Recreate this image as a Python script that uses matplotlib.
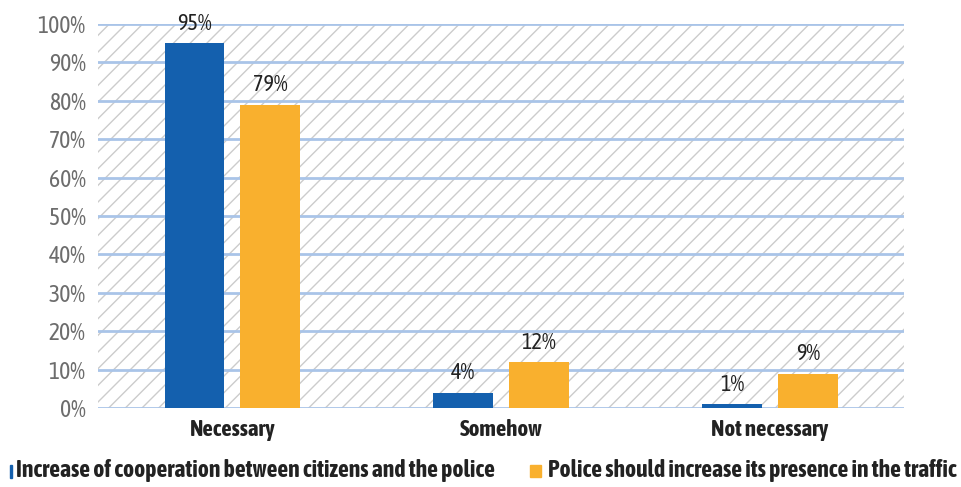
import matplotlib
matplotlib.use("Agg")
import numpy as np
import matplotlib.pyplot as plt
from matplotlib.patches import Rectangle

plt.rcParams['font.family'] = ['Asap Condensed', 'DejaVu Sans']
plt.rcParams['hatch.color'] = '#cccccc'
plt.rcParams['hatch.linewidth'] = 1.0

categories = ["Necessary", "Somehow", "Not necessary"]
cooperation = [95, 4, 1]
presence = [79, 12, 9]
series_names = ["Increase of cooperation between citizens and the police",
                "Police should increase its presence in the traffic"]
yticks = [0, 10, 20, 30, 40, 50, 60, 70, 80, 90, 100]

blue = '#1460ae'
orange = '#f9b02e'

fig = plt.figure(figsize=(9.61, 4.87), dpi=100)
ax = fig.add_axes([0.102, 0.162, 0.839, 0.789])

x = np.arange(len(categories))
w = 0.223
off = 0.141

# hatched background
ax.add_patch(Rectangle((0, 0), 1, 1, transform=ax.transAxes, facecolor='white',
                       edgecolor='#cccccc', hatch='//', linewidth=0, zorder=0))

for y in yticks:
    ax.axhline(y, color='#a9c4e8', linewidth=2, zorder=1)

ax.bar(x - off, cooperation, w, color=blue, zorder=2)
ax.bar(x + off, presence, w, color=orange, zorder=2)

for xs, vals in [(x - off, cooperation), (x + off, presence)]:
    for xi, v in zip(xs, vals):
        ax.annotate(f"{v}%", (xi, v), xytext=(0, 6), textcoords='offset points',
                    ha='center', va='bottom', fontsize=16, color='#222222')

ax.set_xlim(-0.5, 2.5)
ax.set_ylim(0, 100)
ax.set_yticks(yticks)
ax.set_yticklabels([f"{t}%" for t in yticks], fontsize=17, color='#6d6d6d')
ax.set_xticks(x)
ax.set_xticklabels(categories, fontsize=16.5, fontweight='bold', color='#222222')
ax.tick_params(length=0)
ax.tick_params(axis='y', pad=9)
ax.tick_params(axis='x', pad=8)
for s in ax.spines.values():
    s.set_visible(False)

# legend
fig.patches.append(Rectangle((10 / 961, 1 - 478 / 487), 2 / 961, 13 / 487,
                             transform=fig.transFigure, color=blue))
fig.text(16 / 961, 1 - 471 / 487, series_names[0], fontsize=17, fontweight='bold',
         color='#222222', va='center', ha='left')
fig.patches.append(Rectangle((530 / 961, 1 - 477 / 487), 11 / 961, 12 / 487,
                             transform=fig.transFigure, color=orange))
fig.text(548 / 961, 1 - 471 / 487, series_names[1], fontsize=17, fontweight='bold',
         color='#222222', va='center', ha='left')

fig.savefig("out.png", dpi=100)
